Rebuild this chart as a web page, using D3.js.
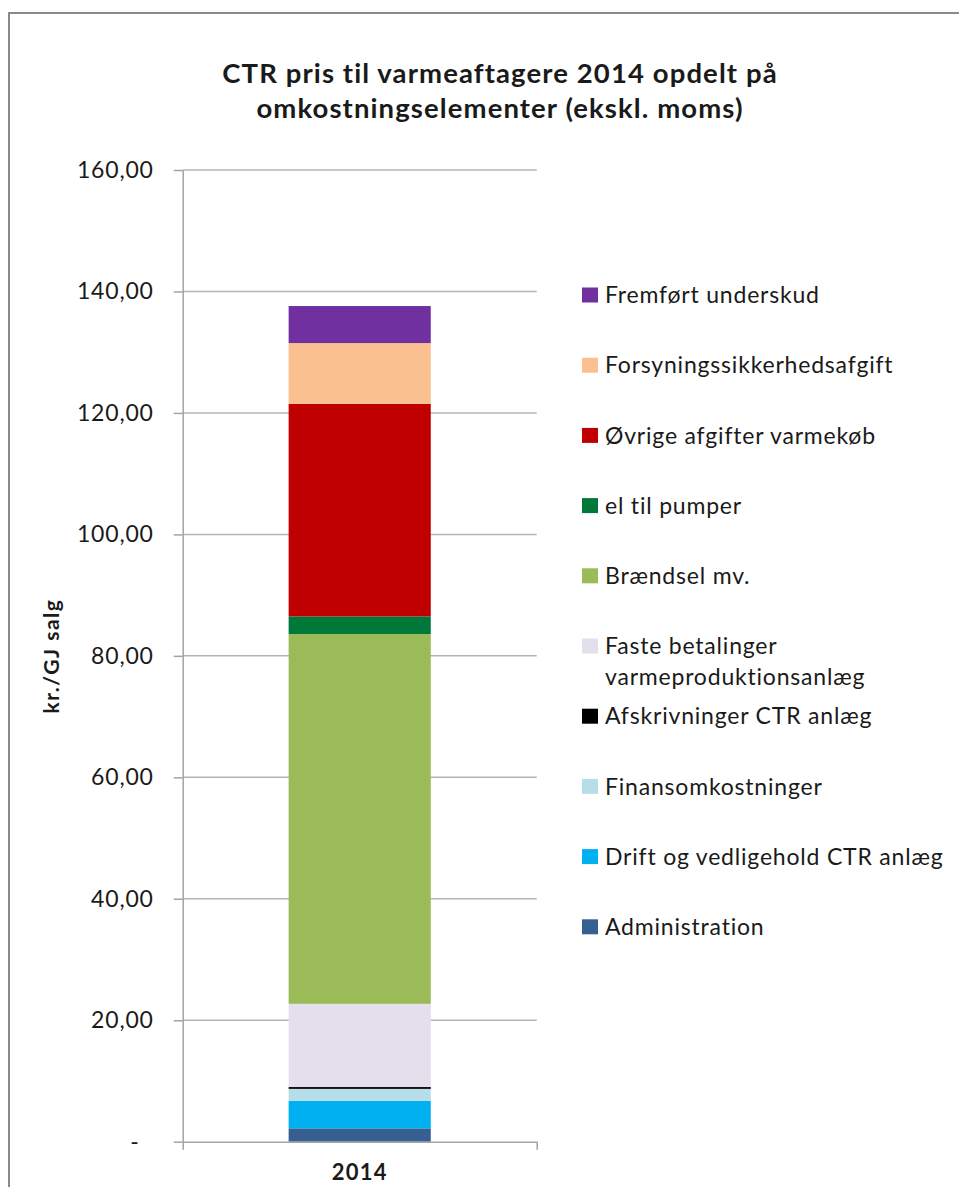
<!DOCTYPE html>
<html>
<head>
<meta charset="utf-8">
<script src="https://cdn.jsdelivr.net/npm/d3@7"></script>
<style>
body { margin: 0; background: #fff; }
text { font-family: Lato, "Open Sans", sans-serif; fill: #1a1a1a; }
</style>
</head>
<body>
<div id="chart"></div>
<script>
// data, bottom of the stack first
var categories = ['2014'];
var series_names = [
    'Administration',
    'Drift og vedligehold CTR anlæg',
    'Finansomkostninger',
    'Afskrivninger CTR anlæg',
    'Faste betalinger varmeproduktionsanlæg',
    'Brændsel mv.',
    'el til pumper',
    'Øvrige afgifter varmekøb',
    'Forsyningssikkerhedsafgift',
    'Fremført underskud'
];
var series_values = [2.2, 4.5, 2.0, 0.3, 13.7, 60.9, 2.9, 35.0, 10.0, 6.1];
var series_colors = ['#376092', '#00b0f0', '#b7dee8', '#000000', '#e4dfec',
                     '#9bbb59', '#00783a', '#c00000', '#fac090', '#7030a0'];
var y_ticks = [0, 20, 40, 60, 80, 100, 120, 140, 160];
var title_lines = ['CTR pris til varmeaftagere 2014 opdelt på',
                   'omkostningselementer (ekskl. moms)'];
var y_label = 'kr./GJ salg';

var WIDTH = 959, HEIGHT = 1187;
var PLOT = {left: 182.7, right: 536.7, top: 170, bottom: 1141.7};

var svg = d3.select('#chart').append('svg')
    .attr('width', WIDTH)
    .attr('height', HEIGHT);

// chart frame, runs off the right and bottom edges
svg.append('rect')
    .attr('x', 9).attr('y', 13)
    .attr('width', 1000).attr('height', 1300)
    .attr('fill', 'none')
    .attr('stroke', '#8a8a8a')
    .attr('stroke-width', 2);

var title = svg.append('text')
    .attr('text-anchor', 'middle')
    .style('font-size', '27.5px')
    .style('letter-spacing', '1.1px')
    .style('font-weight', 'bold');
title_lines.forEach(function(line, i) {
    title.append('tspan')
        .attr('x', 500)
        .attr('y', 83 + i * 35)
        .text(line);
});

var scale_y = d3.scaleLinear()
    .domain([0, 160])
    .range([PLOT.bottom, PLOT.top]);
var scale_x = d3.scaleBand()
    .domain(categories)
    .range([PLOT.left, PLOT.right])
    .padding(0.427);

// gridlines
svg.append('g')
    .selectAll('line')
    .data(y_ticks.filter(function(d) { return d > 0; }))
    .enter()
  .append('line')
    .attr('x1', PLOT.left).attr('x2', PLOT.right)
    .attr('y1', function(d) { return scale_y(d); })
    .attr('y2', function(d) { return scale_y(d); })
    .attr('stroke', '#b4b4b4')
    .attr('stroke-width', 1.5);

// stacked bar
var stack_rows = categories.map(function(c) {
    var row = {category: c};
    series_names.forEach(function(n, i) { row[n] = series_values[i]; });
    return row;
});
var stacked = d3.stack().keys(series_names)(stack_rows);

svg.append('g')
    .selectAll('g')
    .data(stacked)
    .enter()
  .append('g')
    .attr('fill', function(d, i) { return series_colors[i]; })
    .selectAll('rect')
    .data(function(d) { return d; })
    .enter()
  .append('rect')
    .attr('x', function(d) { return scale_x(d.data.category); })
    .attr('width', scale_x.bandwidth())
    .attr('y', function(d) { return scale_y(d[1]); })
    .attr('height', function(d) { return scale_y(d[0]) - scale_y(d[1]); });

// axes
var axis_y = d3.axisLeft(scale_y)
    .tickValues(y_ticks)
    .tickSizeInner(9)
    .tickSizeOuter(0)
    .tickPadding(20)
    .tickFormat(function(d) { return d === 0 ? '-' : d3.format('.2f')(d).replace('.', ','); });
var y_axis = svg.append('g')
    .attr('transform', 'translate(' + PLOT.left + ',0)')
    .call(axis_y);
y_axis.selectAll('text')
    .style('font-size', '23px')
    .style('letter-spacing', '0.8px')
    .style('font-family', 'Lato, sans-serif')
    .attr('fill', '#1a1a1a')
    .filter(function(d) { return d === 0; })
    .attr('dx', '-14px');

var axis_x = d3.axisBottom(scale_x)
    .tickSizeInner(0)
    .tickSizeOuter(8)
    .tickPadding(23);
var x_axis = svg.append('g')
    .attr('transform', 'translate(0,' + PLOT.bottom + ')')
    .call(axis_x);
x_axis.selectAll('text')
    .style('font-size', '22px')
    .style('letter-spacing', '1.2px')
    .style('font-weight', 'bold')
    .style('font-family', 'Lato, sans-serif')
    .attr('fill', '#1a1a1a');

svg.selectAll('.domain, .tick line')
    .attr('stroke', '#a3a3a3')
    .attr('stroke-width', 1.5);

svg.append('text')
    .attr('transform', 'translate(59,656) rotate(-90)')
    .attr('text-anchor', 'middle')
    .style('font-size', '21px')
    .style('letter-spacing', '1.5px')
    .style('font-weight', 'bold')
    .text(y_label);

// legend, top entry is the top of the stack
var legend_items = series_names.map(function(n, i) {
    return {name: n, color: series_colors[i]};
}).reverse();
var legend = svg.append('g')
    .selectAll('g')
    .data(legend_items)
    .enter()
  .append('g')
    .attr('transform', function(d, i) { return 'translate(582,' + (295 + i * 70.2) + ')'; });
legend.append('rect')
    .attr('x', 0).attr('y', -7.5)
    .attr('width', 16).attr('height', 15)
    .attr('fill', function(d) { return d.color; });
legend.append('text')
    .attr('x', 23)
    .attr('dy', '0.36em')
    .style('font-size', '23px')
    .style('letter-spacing', '0.8px')
    .each(function(d) {
        var el = d3.select(this);
        // the long label wraps onto two lines
        if (d.name === 'Faste betalinger varmeproduktionsanlæg') {
            el.append('tspan').attr('x', 23).text('Faste betalinger');
            el.append('tspan').attr('x', 23).attr('dy', 31).text('varmeproduktionsanlæg');
        } else {
            el.text(d.name);
        }
    });
</script>
</body>
</html>
